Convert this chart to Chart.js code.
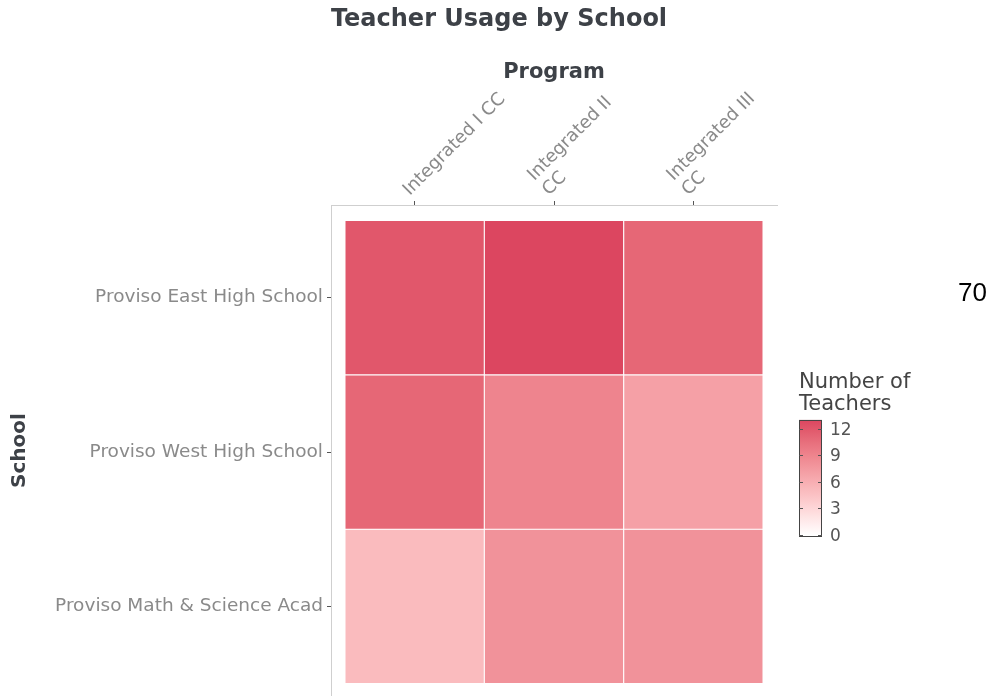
<!DOCTYPE html>
<html><head><meta charset="utf-8">
<script src="https://cdn.jsdelivr.net/npm/chart.js@4/dist/chart.umd.min.js"></script>
<style>html,body{margin:0;padding:0;background:#fff;}#wrap{width:993px;height:696px;position:relative;}</style>
</head><body><div id="wrap"><canvas id="c" width="993" height="696"></canvas></div>
<script>
const chartTitle = 'Teacher Usage by School';
const xTitle = 'Program';
const yTitle = 'School';
const programs = ['Integrated I CC', 'Integrated II CC', 'Integrated III CC'];
const programLabels = [['Integrated I CC'], ['Integrated II', 'CC'], ['Integrated III', 'CC']];
const schools = ['Proviso East High School', 'Proviso West High School', 'Proviso Math & Science Acad'];
const eastValues = [12, 13, 11];
const westValues = [11, 9, 7];
const mathValues = [5, 8, 8];
const legendTitle = ['Number of', 'Teachers'];
const legendTicks = [0, 3, 6, 9, 12];
const colorMin = 0;
const colorMax = 13;
const sideNote = '70';

// colour scale: white -> crimson, interpolated in CIE Lab (like ggplot gradients)
const LOW = [255, 255, 255];
const HIGH = [220, 70, 96];
function srgbToLin(c) { c /= 255; return c <= 0.04045 ? c / 12.92 : Math.pow((c + 0.055) / 1.055, 2.4); }
function linToSrgb(c) { c = c <= 0.0031308 ? 12.92 * c : 1.055 * Math.pow(c, 1 / 2.4) - 0.055; return Math.round(Math.max(0, Math.min(1, c)) * 255); }
const WX = 0.95047, WY = 1, WZ = 1.08883;
function f(t) { return t > 0.008856 ? Math.cbrt(t) : 7.787 * t + 16 / 116; }
function fi(t) { return t > 0.206893 ? t * t * t : (t - 16 / 116) / 7.787; }
function toLab(rgb) {
  const [r, g, b] = rgb.map(srgbToLin);
  const X = r * 0.4124 + g * 0.3576 + b * 0.1805;
  const Y = r * 0.2126 + g * 0.7152 + b * 0.0722;
  const Z = r * 0.0193 + g * 0.1192 + b * 0.9505;
  const fx = f(X / WX), fy = f(Y / WY), fz = f(Z / WZ);
  return [116 * fy - 16, 500 * (fx - fy), 200 * (fy - fz)];
}
function fromLab(lab) {
  const fy = (lab[0] + 16) / 116, fx = fy + lab[1] / 500, fz = fy - lab[2] / 200;
  const X = fi(fx) * WX, Y = fi(fy) * WY, Z = fi(fz) * WZ;
  const r = X * 3.2406 + Y * -1.5372 + Z * -0.4986;
  const g = X * -0.9689 + Y * 1.8758 + Z * 0.0415;
  const b = X * 0.0557 + Y * -0.2040 + Z * 1.0570;
  return [linToSrgb(r), linToSrgb(g), linToSrgb(b)];
}
const LOW_LAB = toLab(LOW), HIGH_LAB = toLab(HIGH);
function colorFor(v) {
  const t = Math.max(0, Math.min(1, (v - colorMin) / (colorMax - colorMin)));
  const lab = LOW_LAB.map((l, i) => l + (HIGH_LAB[i] - l) * t);
  const c = fromLab(lab);
  return `rgb(${c[0]},${c[1]},${c[2]})`;
}

const rows = [eastValues, westValues, mathValues];
const datasets = rows.map((vals, r) => ({
  label: schools[r],
  data: vals.map((v, c) => ({ x: c + 0.5, y: [r, r + 1], v: v })),
  backgroundColor: vals.map(v => colorFor(v)),
  borderColor: 'rgba(255,255,255,0.55)',
  borderWidth: 0.9,
  borderSkipped: false,
  barPercentage: 1,
  categoryPercentage: 1,
  grouped: false
}));

const FONT = "'DejaVu Sans', sans-serif";

const textPlugin = {
  id: 'texts',
  afterDraw(chart) {
    const ctx = chart.ctx;
    ctx.save();
    // main title
    ctx.fillStyle = '#3d4147';
    ctx.font = `bold 24px ${FONT}`;
    ctx.textAlign = 'center';
    ctx.textBaseline = 'middle';
    ctx.fillText(chartTitle, 499, 20);

    // rotated x tick labels, anchored to the x scale's tick positions
    const xs = chart.scales.x;
    const lh = 21;
    ctx.fillStyle = '#8a8a8a';
    ctx.font = `18px ${FONT}`;
    ctx.textAlign = 'left';
    ctx.textBaseline = 'alphabetic';
    programLabels.forEach((lines, i) => {
      const px = xs.getPixelForValue(i + 0.5);
      ctx.save();
      ctx.translate(px - 5, xs.bottom - 9);
      ctx.rotate(-Math.PI / 4);
      const n = lines.length;
      lines.forEach((ln, j) => ctx.fillText(ln, 0, -(n - 1 - j) * lh));
      ctx.restore();
    });

    // legend title
    ctx.fillStyle = '#444';
    ctx.font = `21px ${FONT}`;
    ctx.textAlign = 'left';
    ctx.textBaseline = 'alphabetic';
    ctx.fillText(legendTitle[0], 799, 388);
    ctx.fillText(legendTitle[1], 799, 410);
    // gradient bar
    const bx = 799, bw = 23, yZero = 535, pxPerUnit = 8.85;
    const yTop = yZero - (colorMax - colorMin) * pxPerUnit;
    const grad = ctx.createLinearGradient(0, yZero, 0, yTop);
    for (let i = 0; i <= 20; i++) {
      grad.addColorStop(i / 20, colorFor(colorMin + (colorMax - colorMin) * i / 20));
    }
    ctx.fillStyle = grad;
    ctx.fillRect(bx, yTop, bw, yZero - yTop + 1);
    ctx.strokeStyle = '#444';
    ctx.lineWidth = 1;
    ctx.strokeRect(bx + 0.5, yTop + 0.5, bw - 1, yZero - yTop + 1);
    // ticks and labels
    ctx.fillStyle = '#555';
    ctx.font = `17px ${FONT}`;
    ctx.textBaseline = 'middle';
    legendTicks.forEach(t => {
      const y = Math.round(yZero - (t - colorMin) * pxPerUnit) + 0.5;
      ctx.strokeStyle = '#555';
      ctx.beginPath();
      ctx.moveTo(bx, y); ctx.lineTo(bx + 4, y);
      ctx.moveTo(bx + bw - 4, y); ctx.lineTo(bx + bw, y);
      ctx.stroke();
      ctx.fillText(String(t), 830, y + 1);
    });
    // side note
    ctx.fillStyle = '#000';
    ctx.font = "26px 'Liberation Sans', Arial, sans-serif";
    ctx.textBaseline = 'middle';
    ctx.fillText(sideNote, 958, 294);
    ctx.restore();
  }
};

new Chart(document.getElementById('c'), {
  type: 'bar',
  data: { datasets: datasets },
  plugins: [textPlugin],
  options: {
    responsive: false,
    animation: false,
    layout: { padding: { left: 0, right: 216, top: 42, bottom: 0 } },
    plugins: {
      legend: { display: false },
      tooltip: { enabled: false },
      title: { display: false }
    },
    scales: {
      x: {
        type: 'linear', position: 'top', min: -0.1, max: 3.1, offset: false,
        afterBuildTicks: s => { s.ticks = [0.5, 1.5, 2.5].map(v => ({ value: v })); },
        afterFit: s => { s.height = 205 - 42; s.paddingLeft = 0; s.paddingRight = 0; },
        ticks: { display: false, autoSkip: false, callback: (v, i) => programLabels[i] },
        grid: { display: true, offset: false, drawOnChartArea: false, drawTicks: true, tickLength: 4, color: '#555', lineWidth: 1 },
        border: { display: true, color: '#cfcfcf', width: 1 },
        title: {
          display: true, text: xTitle, color: '#3d4147',
          font: { family: FONT, size: 21, weight: 'bold' },
          padding: { top: 18, bottom: 0 }
        }
      },
      y: {
        type: 'linear', reverse: true, min: -0.1, max: 3.08,
        afterBuildTicks: s => { s.ticks = [0.5, 1.5, 2.5].map(v => ({ value: v })); },
        afterFit: s => { s.width = 331; s.paddingTop = 0; s.paddingBottom = 0; },
        ticks: {
          autoSkip: false, padding: 4,
          color: '#8a8a8a', font: { family: FONT, size: 18.5 },
          callback: (v, i) => schools[i]
        },
        grid: { display: true, drawOnChartArea: false, drawTicks: true, tickLength: 4, color: '#555', lineWidth: 1 },
        border: { display: true, color: '#cfcfcf', width: 1 },
        title: {
          display: true, text: yTitle, color: '#3d4147',
          font: { family: FONT, size: 20, weight: 'bold' },
          padding: { top: 8, bottom: 0 }
        }
      }
    }
  }
});
</script>
</body></html>
